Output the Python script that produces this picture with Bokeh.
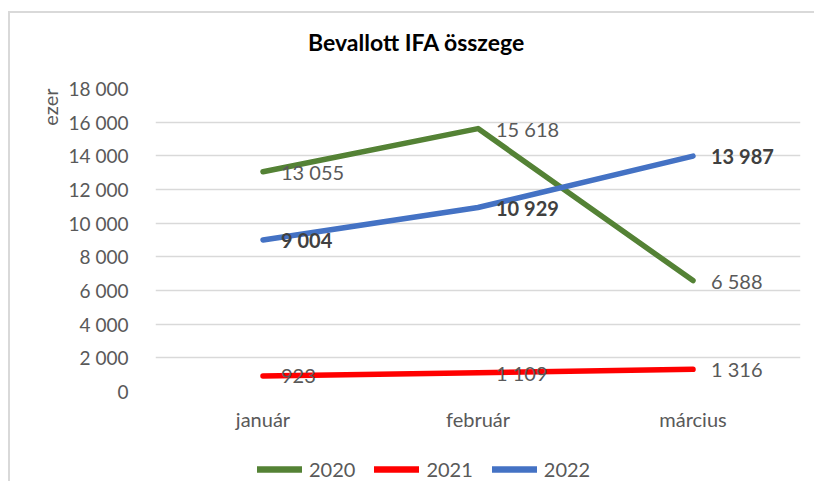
from bokeh.plotting import figure
from bokeh.models import (FactorRange, Range1d, FixedTicker, Legend, LegendItem, Title, Div)
from bokeh.layouts import column
from bokeh.core.properties import value
from bokeh.embed import file_html
from bokeh.resources import INLINE

# ---- data ----
months = ["január", "február", "március"]
v2020 = [13055, 15618, 6588]
v2021 = [923, 1109, 1316]
v2022 = [9004, 10929, 13987]
series_names = ["2020", "2021", "2022"]
series_colors = ["#548235", "#ff0000", "#4472c4"]
y_ticks = [0, 2000, 4000, 6000, 8000, 10000, 12000, 14000, 16000, 18000]
y_tick_labels = ["0", "2 000", "4 000", "6 000", "8 000", "10 000", "12 000", "14 000", "16 000", "18 000"]
title_text = "Bevallott IFA összege"
y_label = "ezer"

FONT = "Lato"
GRAY = "#595959"
LW = 5.5
W = 804


def fmt(v):
    return f"{v:,}".replace(",", " ")


# chart title as a header strip
head = Div(text=f'<div style="padding:16px 0 0 298px; margin:0; font-family:Lato; font-weight:bold; '
                f'font-size:23px; line-height:27px; color:#000000; white-space:nowrap">{title_text}</div>',
           width=W, height=44, margin=(0, 0, 0, 0), styles={"overflow": "hidden"})

p = figure(width=W, height=382, x_range=FactorRange(*months, range_padding=0),
           y_range=Range1d(0, 18000), output_backend="svg", toolbar_location=None,
           min_border_left=145, min_border_right=14, min_border_top=31, min_border_bottom=48)
p.outline_line_color = None
p.background_fill_color = "white"
p.border_fill_color = "white"

# axes
p.yaxis.ticker = FixedTicker(ticks=y_ticks)
p.yaxis.major_label_overrides = {t: l for t, l in zip(y_ticks, y_tick_labels)}
for ax in (p.xaxis[0], p.yaxis[0]):
    ax.axis_line_color = None
    ax.major_tick_line_color = None
    ax.minor_tick_line_color = None
    ax.major_label_text_font = FONT
    ax.major_label_text_color = GRAY
p.yaxis.major_label_text_font_size = "19px"
p.xaxis.major_label_text_font_size = "20px"
p.yaxis.major_label_standoff = 21
p.xaxis.major_label_standoff = 9

p.xgrid.grid_line_color = None
p.ygrid.grid_line_color = "#d9d9d9"
p.ygrid.grid_line_width = 1.5

p.add_layout(Title(text=y_label, align="right", offset=0, text_font=FONT, text_font_size="20px",
                   text_font_style="normal", text_color=GRAY, standoff=8), "left")

for name, vals, col in zip(series_names, [v2020, v2021, v2022], series_colors):
    p.line(months, vals, line_width=LW, line_color=col, line_cap="round", line_join="round")

for name, vals in zip(series_names, [v2020, v2021, v2022]):
    bold = name == "2022"
    p.text(x=months, y=vals, text=[fmt(v) for v in vals], x_offset=18,
           text_baseline="middle", text_align="left", text_font=value(FONT),
           text_font_size="20px", text_font_style="bold" if bold else "normal",
           text_color="#404040" if bold else GRAY)

# legend strip below the chart (its frame is aligned with the chart's frame)
lf = figure(width=W, height=42, output_backend="svg", toolbar_location=None,
            x_axis_type=None, y_axis_type=None, x_range=Range1d(0, 1), y_range=Range1d(0, 1),
            min_border_left=0, min_border_right=0, min_border_top=0, min_border_bottom=0)
lf.outline_line_color = None
lf.xgrid.grid_line_color = None
lf.ygrid.grid_line_color = None
lf.border_fill_color = "white"
items = []
for name, col in zip(series_names, series_colors):
    # legend swatches only: drawn outside the visible range
    r = lf.line(x=[-5, -4], y=[-5, -5], line_width=LW + 1, line_color=col, line_cap="round")
    items.append(LegendItem(label=name, renderers=[r]))
legend = Legend(items=items, orientation="horizontal", location=(102, 0),
                glyph_width=45, glyph_height=24, label_standoff=7, spacing=19,
                label_text_font=FONT, label_text_font_size="20px", label_text_color=GRAY,
                border_line_color=None, background_fill_alpha=0, padding=0, margin=0)
lf.add_layout(legend, "center")

layout = column(head, p, lf, spacing=0, margin=(11, 0, 0, 8),
                styles={"border-left": "2px solid #d9d9d9", "border-top": "2px solid #d9d9d9"})

open("out.html", "w").write(file_html(layout, INLINE))
